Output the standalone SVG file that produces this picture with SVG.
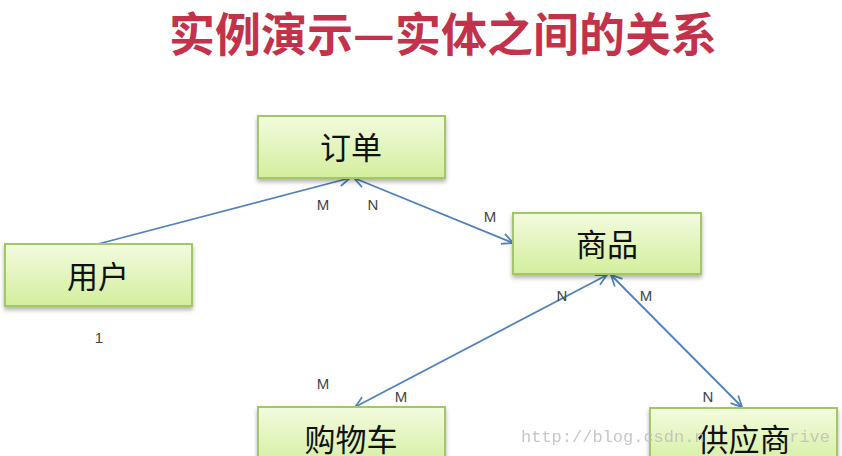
<svg xmlns="http://www.w3.org/2000/svg" width="842" height="456" viewBox="0 0 842 456">
<style>
.title{font-family:"Noto Sans CJK SC","Liberation Sans",sans-serif;font-size:46px;font-weight:bold;fill:#C3324A;text-anchor:middle}
.box{fill:url(#g);stroke:#A3C66A;stroke-width:2}
.nt{font-family:"Noto Sans CJK SC","Liberation Sans",sans-serif;font-size:31px;fill:#111;text-anchor:middle}
.lb{font-family:"Liberation Sans","DejaVu Sans",sans-serif;font-size:15px;fill:#444;text-anchor:middle}
.cn{fill:none;stroke:#4F81BD;stroke-width:1.8}
.wm{font-family:"Liberation Mono","DejaVu Sans Mono",monospace;font-size:17px;fill:#BDBDBD;opacity:0.85}
</style>
<defs>
<linearGradient id="g" x1="0" y1="0" x2="0" y2="1">
<stop offset="0" stop-color="#F3FBDF"/>
<stop offset="1" stop-color="#D3EE9C"/>
</linearGradient>
<filter id="sh" x="-10%" y="-10%" width="120%" height="140%">
<feDropShadow dx="0" dy="3" stdDeviation="2" flood-color="#000" flood-opacity="0.3"/>
</filter>
<marker id="ar" viewBox="0 0 12 12" refX="11" refY="6" markerWidth="13" markerHeight="13" markerUnits="userSpaceOnUse" orient="auto-start-reverse">
<path d="M1,1 L11,6 L1,11" fill="none" stroke="#4F81BD" stroke-width="1.6"/>
</marker>
</defs>
<rect width="842" height="456" fill="#fff"/>
<text class="title" x="443" y="51">实例演示—实体之间的关系</text>
<g id="connectors">
<line class="cn" x1="98" y1="244" x2="350" y2="178" marker-end="url(#ar)"/>
<line class="cn" x1="354" y1="178" x2="513" y2="243" marker-start="url(#ar)" marker-end="url(#ar)"/>
<line class="cn" x1="607" y1="275" x2="355" y2="407" marker-start="url(#ar)" marker-end="url(#ar)"/>
<line class="cn" x1="611" y1="275" x2="742" y2="407" marker-start="url(#ar)" marker-end="url(#ar)"/>
</g>
<g id="labels">
<text class="lb" x="323" y="210">M</text>
<text class="lb" x="373" y="210">N</text>
<text class="lb" x="490" y="222">M</text>
<text class="lb" x="562" y="301">N</text>
<text class="lb" x="646" y="301">M</text>
<text class="lb" x="323" y="389">M</text>
<text class="lb" x="401" y="402">M</text>
<text class="lb" x="708" y="402">N</text>
<text class="lb" x="99" y="343">1</text>
</g>
<g id="node-order">
<rect class="box" x="258" y="116" width="187" height="62" filter="url(#sh)"/>
<text class="nt" x="351" y="159">订单</text>
</g>
<g id="node-user">
<rect class="box" x="5" y="244" width="187" height="62" filter="url(#sh)"/>
<text class="nt" x="98" y="288">用户</text>
</g>
<g id="node-product">
<rect class="box" x="513" y="213" width="188" height="61" filter="url(#sh)"/>
<text class="nt" x="607" y="256">商品</text>
</g>
<g id="node-cart">
<rect class="box" x="258" y="407" width="187" height="62" filter="url(#sh)"/>
<text class="nt" x="351" y="451">购物车</text>
</g>
<g id="node-supplier">
<rect class="box" x="650" y="408" width="187" height="62" filter="url(#sh)"/>
<text class="nt" x="744" y="451">供应商</text>
</g>
<g id="watermark">
<text class="wm" x="521" y="442">http://blog.csdn.n</text>
<text class="wm" x="830" y="442" text-anchor="end">rive</text>
</g>
</svg>
